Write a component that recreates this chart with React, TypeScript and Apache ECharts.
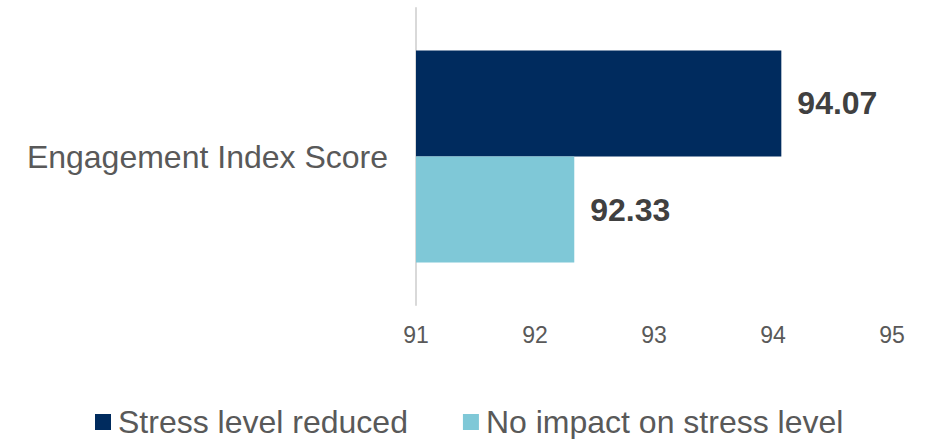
import React, { useEffect, useRef } from "react";
import * as echarts from "echarts";

const categories = ["Engagement Index Score"];
const seriesNames = ["Stress level reduced", "No impact on stress level"];
const stressReduced = [94.07];
const noImpact = [92.33];
const colors = ["#002B5E", "#7FC8D7"];

export default function App() {
  const ref = useRef<HTMLDivElement>(null);
  useEffect(() => {
    if (!ref.current) return;
    const chart = echarts.init(ref.current, null, { renderer: "svg" });
    const font = "Arial, 'Liberation Sans', sans-serif";
    const valueLabel = {
      show: true,
      position: "right",
      distance: 16,
      color: "#404040",
      fontSize: 32,
      fontWeight: "bold",
      fontFamily: font,
      formatter: (p: any) => p.value.toFixed(2),
    };
    chart.setOption({
      animation: false,
      color: colors,
      textStyle: { fontFamily: font },
      grid: { left: 416, right: 36, top: 8, bottom: 134, containLabel: false },
      xAxis: {
        type: "value",
        min: 91,
        max: 95,
        interval: 1,
        axisLine: { show: false },
        axisTick: { show: false },
        splitLine: { show: false },
        axisLabel: { color: "#595959", fontSize: 23, margin: 18, fontFamily: font },
      },
      yAxis: {
        type: "category",
        data: categories,
        inverse: true,
        axisLine: { show: true, lineStyle: { color: "#D9D9D9", width: 2 } },
        axisTick: { show: false },
        axisLabel: { color: "#595959", fontSize: 32, margin: 28, fontFamily: font },
      },
      legend: {
        bottom: -4,
        left: 90,
        itemWidth: 16,
        itemHeight: 16,
        itemGap: 55,
        icon: "rect",
        textStyle: { color: "#595959", fontSize: 32, fontFamily: font, padding: [0, 0, 0, 2] },
        data: seriesNames,
      },
      series: [
        {
          name: seriesNames[0],
          type: "bar",
          data: stressReduced,
          barGap: "0%",
          barCategoryGap: "28.6%",
          label: valueLabel,
        },
        {
          name: seriesNames[1],
          type: "bar",
          data: noImpact,
          barGap: "0%",
          barCategoryGap: "28.6%",
          label: valueLabel,
        },
      ],
    });
    return () => chart.dispose();
  }, []);
  return <div ref={ref} style={{ width: 928, height: 439, position: "absolute", left: 0, top: 0 }} />;
}
